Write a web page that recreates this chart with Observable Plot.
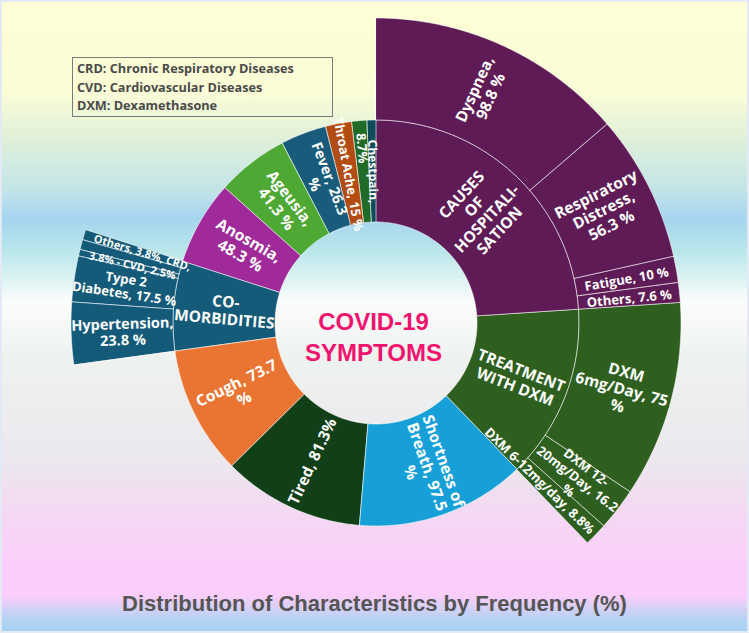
<!DOCTYPE html>
<html>
<head>
<meta charset="utf-8">
<script src="https://cdn.jsdelivr.net/npm/d3@7"></script>
<script src="https://cdn.jsdelivr.net/npm/@observablehq/plot@0.6"></script>
<style>
  html, body { margin: 0; padding: 0; }
  #wrap {
    position: relative; width: 749px; height: 633px; overflow: hidden;
    background: linear-gradient(to bottom,
      #fefed6 0px, #fbfdd6 90px, #dff0da 140px, #c2e4e8 190px, #a5d5ef 218px,
      #b8e6ea 250px, #fbfdfb 302px, #eef2ef 360px, #ebe8ee 460px,
      #f4d9f2 510px, #fbcffa 560px, #fccdfa 595px, #aed3f2 622px, #a6d0f0 633px);
    box-shadow: inset 0 0 0 2px #e4e9f6;
  }
  #chart { position: absolute; left: 0; top: 0; }
  #legend {
    position: absolute; left: 72px; top: 57px; width: 261px; height: 60px;
    box-sizing: border-box; border: 1px solid #7a7a7a; padding: 1px 4px;
    font-family: "Open Sans", "Noto Sans", sans-serif; font-weight: bold;
    font-size: 12.7px; line-height: 18.5px; color: #4a4a4a; white-space: nowrap;
  }
  #title {
    position: absolute; left: 0; top: 591px; width: 749px; text-align: center;
    font-family: "Liberation Sans", Arial, sans-serif; font-weight: bold;
    font-size: 22px; color: #555555;
  }
</style>
</head>
<body>
<div id="wrap">
  <div id="chart"></div>
  <div id="legend">CRD: Chronic Respiratory Diseases<br>CVD: Cardiovascular Diseases<br>DXM: Dexamethasone</div>
  <div id="title">Distribution of Characteristics by Frequency (%)</div>
</div>
<script>
// ---------------- DATA ----------------
// Inner ring (null value = sum of its children)
const categories = ["Causes of Hospitalisation", "Treatment with DXM", "Shortness of Breath", "Tired", "Cough",
  "Co-morbidities", "Anosmia", "Ageusia", "Fever", "Throat Ache", "(unlabelled)", "Chest pain"];
const categoryValues = [null, null, 97.5, 81.3, 73.7, null, 48.3, 41.3, 26.3, 15, 8.7, 5];
const categoryLabels = ["CAUSES\nOF\nHOSPITALI-\nSATION", "TREATMENT\nWITH DXM", "Shortness of\nBreath, 97.5\n%",
  "Tired, 81.3%", "Cough, 73.7\n%", "CO-\nMORBIDITIES", "Anosmia,\n48.3 %", "Ageusia,\n41.3 %",
  "Fever, 26.3\n%", "Throat Ache, 15 %", "8.7%", "Chestpain,"];

// Outer ring
const causes = ["Dyspnea", "Respiratory Distress", "Fatigue", "Others"];
const causesValues = [98.8, 56.3, 10, 7.6];
const causesLabels = ["Dyspnea,\n98.8 %", "Respiratory\nDistress,\n56.3 %", "Fatigue, 10 %", "Others, 7.6 %"];

const dxmDoses = ["DXM 6mg/Day", "DXM 12-20mg/Day", "DXM 6-12mg/day"];
const dxmValues = [75, 16.2, 8.8];
const dxmLabels = ["DXM\n6mg/Day, 75\n%", "DXM 12-\n20mg/Day, 16.2\n%", "DXM 6-12mg/day, 8.8%"];

const comorbidities = ["Hypertension", "Type 2 Diabetes", "CVD", "CRD", "Others"];
const comorbValues = [23.8, 17.5, 2.5, 3.8, 3.8];
// small-wedge labels overlap in the original; reproduced as they read
const comorbLabels = ["Hypertension,\n23.8 %", "Type 2\nDiabetes, 17.5 %", "3.8% - CVD, 2.5%", "", "Others, 3.8%, CRD,"];

// ---------------- STYLE ----------------
const palette = ["#5f1b55", "#2e5f1e", "#17a0d8", "#113f17", "#ea7533", "#145a79",
  "#a12a9b", "#4ea934", "#185b7b", "#b24c12", "#1f6b27", "#0f4b5b"];
const childrenOf = {
  0: {names: causes, values: causesValues, labels: causesLabels},
  1: {names: dxmDoses, values: dxmValues, labels: dxmLabels},
  5: {names: comorbidities, values: comorbValues, labels: comorbLabels}
};

const W = 749, H = 575, CX = 376, CY = 323;
const R0 = 101, R1 = 203, R2 = 305;

// ---------------- LAYOUT ----------------
const nodes = [];
let cum = 0;
categories.forEach((c, i) => {
  const ch = childrenOf[i];
  const v = ch ? d3.sum(ch.values) : categoryValues[i];
  nodes.push({id: c, depth: 1, start: cum, value: v, label: categoryLabels[i], color: palette[i], parent: !!ch});
  if (ch) {
    let s = cum;
    ch.names.forEach((n, j) => {
      nodes.push({id: c + "/" + n, depth: 2, start: s, value: ch.values[j], label: ch.labels[j], color: palette[i]});
      s += ch.values[j];
    });
  }
  cum += v;
});
const angle = d3.scaleLinear().domain([0, cum]).range([0, 360]);
const radius = {1: [R0, R1], 2: [R1, R2]};

const rows = [];
const labels = [];
for (const n of nodes) {
  const a0 = angle(n.start), a1 = angle(n.start + n.value);
  const [r0, r1] = radius[n.depth];
  const steps = Math.max(2, Math.ceil((a1 - a0) / 0.5) + 1);
  for (let k = 0; k < steps; k++) {
    const a = (a0 + (a1 - a0) * k / (steps - 1)) * Math.PI / 180;
    rows.push({id: n.id, color: n.color,
      xo: r1 * Math.sin(a), yo: -r1 * Math.cos(a),
      xi: r0 * Math.sin(a), yi: -r0 * Math.cos(a)});
  }
  if (!n.label) continue;
  const am = (a0 + a1) / 2, ar = am * Math.PI / 180;
  const rot = am <= 180 ? am - 90 : am - 270;
  let size;
  if (n.parent) size = 15.5;
  else size = n.value >= 40 ? 15.5 : n.value >= 20 ? 14.5 : n.value >= 7 ? 13 : n.value >= 5 ? 12 : 11;
  let rm = (r0 + r1) / 2;
  const L = n.label.length * size * 0.58;
  // long single-line outer labels: keep the outer end inside the ring
  if (n.depth === 2 && !n.label.includes("\n") && L > r1 - r0) rm = r1 - L / 2 - 3;
  // very short labels sit toward the outer edge of their wedge
  if (n.label.length <= 5) rm = r1 - L / 2 - 12;
  labels.push({label: n.label, x: rm * Math.sin(ar), y: -rm * Math.cos(ar), rotate: rot, size});
}

// ---------------- PLOT ----------------
const chart = Plot.plot({
  width: W, height: H,
  margin: 0,
  x: {domain: [-CX, W - CX], range: [0, W], axis: null},
  y: {domain: [-CY, H - CY], range: [0, H], axis: null},
  color: {type: "identity"},
  style: {background: "transparent", overflow: "visible"},
  marks: [
    Plot.area(rows, {x1: "xo", y1: "yo", x2: "xi", y2: "yi", z: "id", fill: "color",
      stroke: "#ffffff", strokeOpacity: 0.7, strokeWidth: 0.8, curve: "linear"}),
    Plot.text(labels, {x: "x", y: "y", text: "label", rotate: d => d.rotate, fontSize: d => d.size,
      fill: "white", fontWeight: "bold", fontFamily: "Open Sans, Noto Sans, sans-serif", lineHeight: 1.12}),
    Plot.text(["COVID-19\nSYMPTOMS"], {x: () => 0, y: () => 0, dx: -3, dy: 12, fill: "#f0146e",
      fontSize: 24, fontWeight: "bold", fontFamily: "Liberation Sans, Arial, sans-serif", lineHeight: 1.3})
  ]
});
document.getElementById("chart").appendChild(chart);
</script>
</body>
</html>
